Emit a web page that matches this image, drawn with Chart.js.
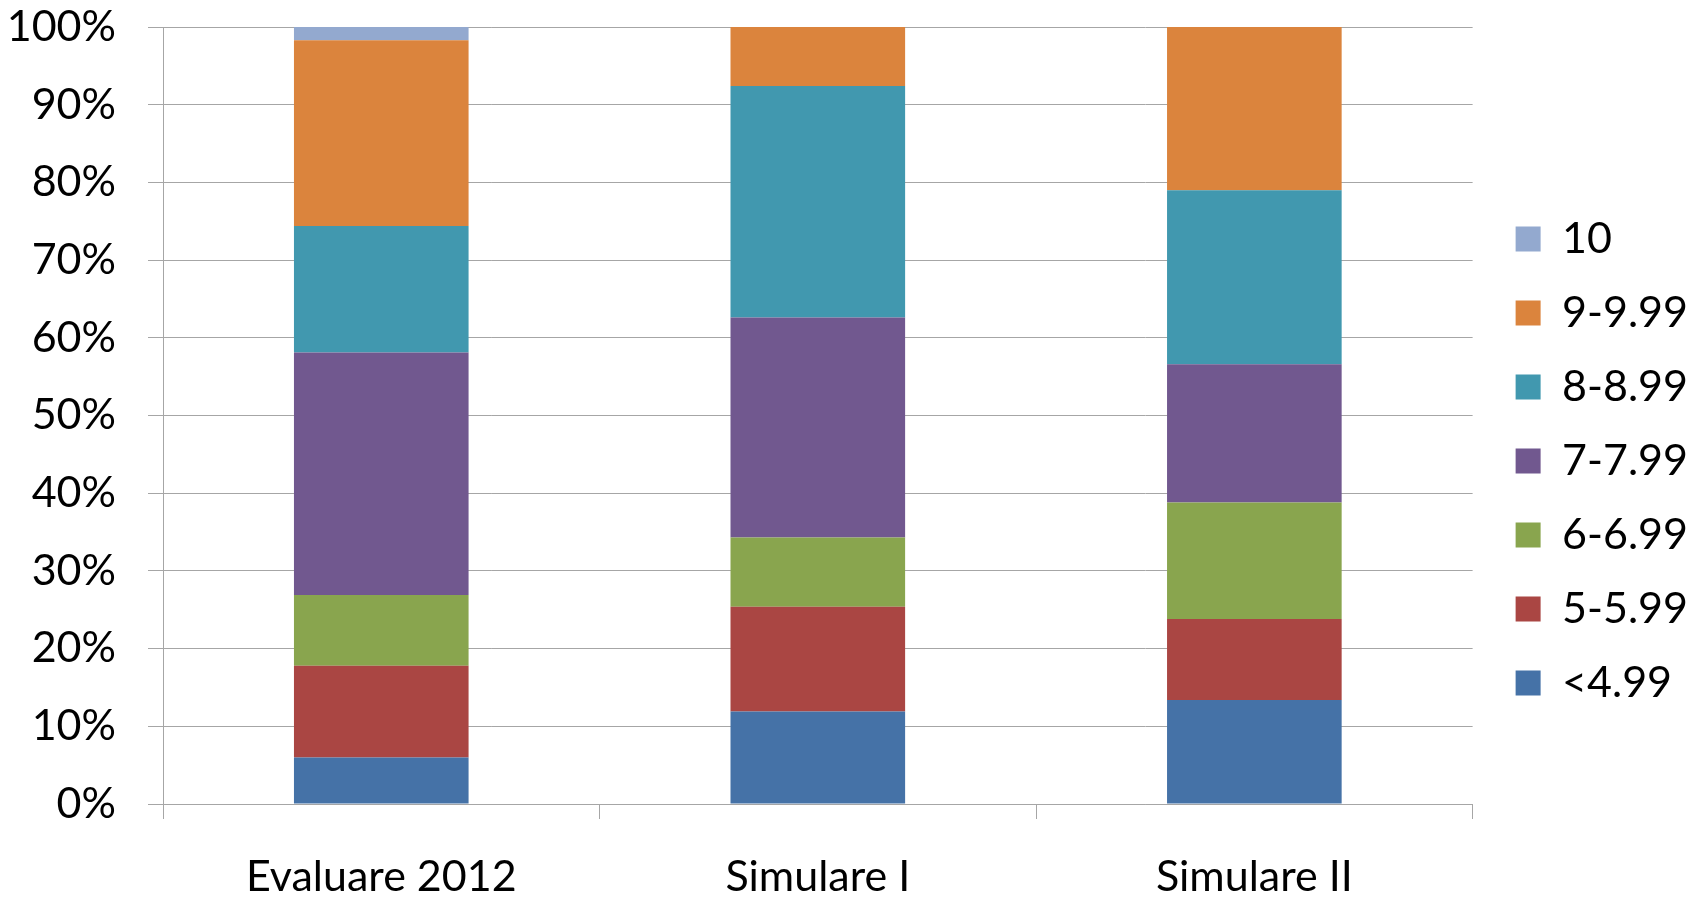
<!DOCTYPE html>
<html>
<head>
<meta charset="utf-8">
<title>Distributia notelor</title>
<script src="https://cdn.jsdelivr.net/npm/chart.js@4.4.1/dist/chart.umd.min.js"></script>
<style>
  body { margin: 0; background: #fff; }
  #wrap { width: 1702px; height: 900px; }
</style>
</head>
<body>
<div id="wrap"><canvas id="mycanvas" width="1702" height="900"></canvas></div>
<script>
// procente pe intervale de note
var categories = ["Evaluare 2012", "Simulare I", "Simulare II"];
var sub499 = [6.0, 11.9, 13.4];
var note5 = [11.8, 13.5, 10.4];
var note6 = [9.1, 8.9, 15.0];
var note7 = [31.2, 28.3, 17.8];
var note8 = [16.3, 29.8, 22.4];
var note9 = [23.9, 7.6, 21.0];
var note10 = [1.7, 0, 0];
var yTicks = [0, 10, 20, 30, 40, 50, 60, 70, 80, 90, 100];

var gridColor = "#a6a6a6";
var fontFam = "Lato, 'Open Sans', sans-serif";
var fontSize = 43;

function serie(label, data, color) {
	return {
		label: label,
		data: data,
		backgroundColor: color,
		borderWidth: 0,
		categoryPercentage: 1.0,
		barPercentage: 0.4
	};
}

var chartdata = {
	labels: categories,
	datasets: [
		serie("<4.99", sub499, "#4572a7"),
		serie("5-5.99", note5, "#aa4643"),
		serie("6-6.99", note6, "#89a54e"),
		serie("7-7.99", note7, "#71588f"),
		serie("8-8.99", note8, "#4198af"),
		serie("9-9.99", note9, "#db843d"),
		serie("10", note10, "#93a9cf")
	]
};

var ctx = document.getElementById("mycanvas");

var BarGraph = new Chart(ctx, {
	type: 'bar',
	data: chartdata,
	options: {
		responsive: false,
		animation: false,
		layout: { padding: { top: 22, right: 4, bottom: 0, left: 0 } },
		plugins: {
			tooltip: { enabled: false },
			legend: {
				position: 'right',
				reverse: true,
				labels: {
					boxWidth: 25,
					boxHeight: 25,
					padding: 31,
					color: '#000',
					font: { family: fontFam, size: fontSize }
				}
			}
		},
		scales: {
			x: {
				stacked: true,
				afterFit: function(scale) { scale.height = 96; },
				grid: {
					drawOnChartArea: false,
					drawTicks: true,
					tickLength: 15,
					color: gridColor,
					offset: true
				},
				border: { color: gridColor },
				ticks: {
					color: '#000',
					padding: 32,
					maxRotation: 0,
					font: { family: fontFam, size: fontSize }
				}
			},
			y: {
				stacked: true,
				min: 0,
				max: 100,
				afterBuildTicks: function(scale) {
					scale.ticks = yTicks.map(function(v) { return { value: v }; });
				},
				afterFit: function(scale) {
					scale.width = 163;
					scale.paddingTop = 27;
					scale.paddingBottom = 24;
				},
				grid: {
					color: gridColor,
					tickLength: 15
				},
				border: { color: gridColor },
				ticks: {
					color: '#000',
					padding: 32,
					font: { family: fontFam, size: fontSize },
					callback: function(v) { return v + '%'; }
				}
			},
			spacer: {
				type: 'linear',
				position: 'right',
				display: true,
				grid: { display: false },
				border: { display: false },
				ticks: { display: false },
				afterFit: function(scale) { scale.width = 12; }
			}
		}
	}
});
</script>
</body>
</html>
